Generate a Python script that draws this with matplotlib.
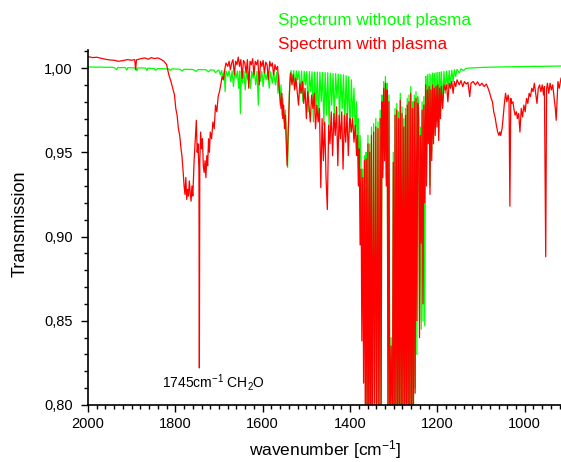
import numpy as np
import matplotlib
matplotlib.use("Agg")
import matplotlib.pyplot as plt
from matplotlib.ticker import MultipleLocator, FuncFormatter

plt.rcParams['font.family'] = ['Liberation Sans', 'DejaVu Sans']
plt.rcParams['mathtext.fontset'] = 'custom'
plt.rcParams['mathtext.rm'] = 'Liberation Sans'
plt.rcParams['mathtext.it'] = 'Liberation Sans:italic'
plt.rcParams['mathtext.bf'] = 'Liberation Sans:bold'

# ---------------------------------------------------------------------------
# Spectrum without plasma: (wavenumber [cm-1], transmission)
# ---------------------------------------------------------------------------
free_2000_1700 = [
    (2000, 1.0007), (1990, 1.0006), (1980, 1.0005), (1970, 1.0006), (1960, 1.0004),
    (1950, 1.0005), (1940, 1.0003), (1934, 0.9990), (1932, 1.0003), (1925, 1.0002),
    (1915, 1.0003), (1911, 0.9988), (1909, 1.0002), (1900, 1.0001), (1890, 1.0000),
    (1888, 0.9984), (1886, 1.0000), (1878, 1.0001), (1868, 0.9999), (1865, 0.9986),
    (1863, 0.9999), (1855, 0.9998), (1848, 0.9997), (1846, 0.9986), (1840, 0.9997),
    (1832, 0.9996), (1822, 0.9995), (1815, 0.9995), (1812, 0.9986), (1808, 0.9995),
    (1800, 0.9994), (1790, 0.9993), (1784, 0.9983), (1780, 0.9993), (1770, 0.9992),
    (1760, 0.9991), (1752, 0.9980), (1748, 0.9991), (1740, 0.9990), (1730, 0.9990),
    (1724, 0.9978), (1720, 0.9989), (1712, 0.9988), (1708, 0.9972), (1702, 0.9988),
]
free_1700_1537 = [
    (1700, 0.9986), (1697, 0.9960), (1694, 0.9985), (1690, 0.9930), (1688, 0.9984),
    (1686, 0.9860), (1684, 0.9982), (1680, 0.9950), (1677, 0.9984), (1673, 0.9920),
    (1670, 0.9983), (1667, 0.9890), (1664, 0.9982), (1661, 0.9940), (1658, 0.9983),
    (1655, 0.9880), (1653, 0.9982), (1651, 0.9730), (1649, 0.9980), (1646, 0.9910),
    (1643, 0.9982), (1640, 0.9870), (1637, 0.9981), (1634, 0.9930), (1631, 0.9980),
    (1628, 0.9880), (1625, 0.9981), (1622, 0.9940), (1619, 0.9980), (1616, 0.9900),
    (1613, 0.9980), (1610, 0.9780), (1608, 0.9979), (1605, 0.9920), (1602, 0.9980),
    (1599, 0.9890), (1596, 0.9979), (1592, 0.9930), (1589, 0.9978), (1585, 0.9880),
    (1582, 0.9978), (1578, 0.9910), (1575, 0.9977), (1571, 0.9900), (1568, 0.9975),
    (1565, 0.9850), (1563, 0.9960), (1560, 0.9780), (1558, 0.9900), (1556, 0.9720),
    (1554, 0.9820), (1551, 0.9680), (1548, 0.9750), (1546, 0.9600), (1543, 0.9410),
    (1541, 0.9650), (1539, 0.9850), (1537, 0.9960),
]
free_1536_1377 = [
    (1535, 0.9985), (1532, 0.9920), (1529, 0.9984), (1526, 0.9880), (1523, 0.9983),
    (1520, 0.9930), (1517, 0.9982), (1514, 0.9850), (1511, 0.9982), (1508, 0.9800),
    (1505, 0.9980), (1502, 0.9900), (1499, 0.9980), (1496, 0.9740), (1493, 0.9979),
    (1490, 0.9860), (1487, 0.9978), (1484, 0.9680), (1481, 0.9977), (1478, 0.9750),
    (1475, 0.9976), (1472, 0.9690), (1469, 0.9975), (1466, 0.9800), (1463, 0.9974),
    (1460, 0.9660), (1457, 0.9973), (1454, 0.9720), (1451, 0.9972), (1448, 0.9650),
    (1445, 0.9970), (1442, 0.9780), (1439, 0.9968), (1436, 0.9700), (1433, 0.9967),
    (1430, 0.9820), (1427, 0.9965), (1424, 0.9690), (1421, 0.9962), (1418, 0.9760),
    (1415, 0.9960), (1412, 0.9660), (1409, 0.9955), (1406, 0.9700), (1403, 0.9950),
    (1400, 0.9620), (1397, 0.9930), (1394, 0.9700), (1391, 0.9880), (1388, 0.9600),
    (1385, 0.9800), (1383, 0.9500), (1381, 0.9700), (1379, 0.9300), (1377, 0.9600),
]
free_1375_1245 = [
    (1375, 0.9450), (1373, 0.8900), (1371, 0.9400), (1369, 0.8600), (1367, 0.9480),
    (1365, 0.9060), (1363, 0.9500), (1361, 0.7800), (1359, 0.9600), (1357, 0.7800),
    (1355, 0.9550), (1353, 0.7800), (1351, 0.9650), (1349, 0.7800), (1346, 0.9670),
    (1344, 0.7800), (1341, 0.9700), (1339, 0.7800), (1336, 0.9680), (1334, 0.7800),
    (1331, 0.9750), (1329, 0.7800), (1327, 0.9840), (1325, 0.9400), (1323, 0.9920),
    (1321, 0.9500), (1319, 0.9950), (1317, 0.9350), (1315, 0.9910), (1313, 0.7800),
    (1311, 0.9840), (1309, 0.7800), (1306, 0.8400), (1303, 0.7800), (1301, 0.9500),
    (1299, 0.7800), (1297, 0.9760), (1295, 0.7800), (1293, 0.9790), (1291, 0.7800),
    (1289, 0.9740), (1287, 0.7800), (1285, 0.9850), (1283, 0.7800), (1281, 0.9770),
    (1279, 0.7800), (1277, 0.9700), (1275, 0.8100), (1273, 0.9760), (1271, 0.7800),
    (1269, 0.9820), (1267, 0.7800), (1265, 0.9840), (1263, 0.7800), (1261, 0.9890),
    (1259, 0.7800), (1257, 0.9800), (1255, 0.7800), (1253, 0.9840), (1251, 0.8100),
    (1249, 0.9860), (1247, 0.8300), (1245, 0.9830),
]
free_1243_917 = [
    (1243, 0.9740), (1241, 0.8500), (1239, 0.9650), (1237, 0.8450), (1235, 0.9800),
    (1233, 0.8500), (1231, 0.9830), (1229, 0.8470), (1227, 0.9950), (1225, 0.9350),
    (1223, 0.9960), (1221, 0.9600), (1219, 0.9965), (1217, 0.9300), (1215, 0.9960),
    (1213, 0.9500), (1211, 0.9970), (1209, 0.9580), (1207, 0.9968), (1205, 0.9650),
    (1203, 0.9972), (1201, 0.9680), (1199, 0.9975), (1197, 0.9620), (1195, 0.9974),
    (1193, 0.9750), (1191, 0.9978), (1188, 0.9800), (1185, 0.9980), (1182, 0.9850),
    (1179, 0.9982), (1176, 0.9880), (1173, 0.9985), (1170, 0.9900), (1167, 0.9987),
    (1164, 0.9920), (1161, 0.9990), (1158, 0.9950), (1155, 0.9992), (1150, 0.9970),
    (1146, 0.9995), (1140, 0.9985), (1135, 0.9998), (1125, 1.0000), (1110, 1.0002),
    (1095, 1.0004), (1080, 1.0005), (1060, 1.0006), (1040, 1.0007), (1020, 1.0008),
    (1000, 1.0009), (980, 1.0010), (960, 1.0010), (940, 1.0011), (917, 1.0012),
]

# ---------------------------------------------------------------------------
# Spectrum with plasma: (wavenumber [cm-1], transmission)
# ---------------------------------------------------------------------------
plasma_2000_1700 = [
    (2000, 1.0068), (1990, 1.0062), (1980, 1.0064), (1970, 1.0058), (1960, 1.0052),
    (1950, 1.0048), (1940, 1.0046), (1930, 1.0040), (1920, 1.0044), (1910, 1.0050),
    (1900, 1.0046), (1893, 1.0050), (1891, 0.9990), (1889, 1.0048), (1880, 1.0055),
    (1870, 1.0060), (1862, 1.0052), (1855, 1.0062), (1848, 1.0056), (1840, 1.0060),
    (1832, 1.0050), (1826, 1.0040), (1820, 1.0020), (1815, 0.9960), (1810, 0.9920),
    (1806, 0.9880), (1802, 0.9840), (1799, 0.9760), (1796, 0.9720), (1793, 0.9640),
    (1790, 0.9600), (1787, 0.9520), (1785, 0.9480), (1782, 0.9380), (1780, 0.9300),
    (1778, 0.9250), (1776, 0.9350), (1774, 0.9220), (1772, 0.9280), (1770, 0.9240),
    (1768, 0.9330), (1766, 0.9260), (1764, 0.9210), (1762, 0.9300), (1760, 0.9240),
    (1757, 0.9450), (1754, 0.9600), (1752, 0.9690), (1750, 0.9500), (1748, 0.9550),
    (1746, 0.9400), (1745, 0.8220), (1744, 0.9450), (1742, 0.9620), (1740, 0.9520),
    (1738, 0.9580), (1736, 0.9420), (1734, 0.9380), (1732, 0.9450), (1730, 0.9350),
    (1728, 0.9480), (1726, 0.9420), (1724, 0.9580), (1722, 0.9500), (1720, 0.9620),
    (1717, 0.9580), (1714, 0.9680), (1711, 0.9640), (1708, 0.9780), (1705, 0.9740),
    (1702, 0.9830),
]
plasma_1700_1537 = [
    (1699, 0.9860), (1696, 0.9900), (1693, 0.9950), (1690, 0.9930), (1687, 0.9990),
    (1684, 1.0030), (1680, 1.0010), (1677, 1.0040), (1674, 0.9990), (1671, 1.0030),
    (1668, 1.0050), (1665, 0.9960), (1662, 1.0040), (1659, 1.0020), (1656, 1.0065),
    (1653, 1.0010), (1650, 1.0050), (1647, 0.9940), (1644, 1.0045), (1641, 1.0030),
    (1638, 0.9970), (1635, 1.0050), (1632, 0.9880), (1629, 1.0040), (1626, 1.0020),
    (1623, 1.0055), (1620, 0.9960), (1617, 1.0040), (1614, 1.0020), (1611, 1.0048),
    (1608, 0.9900), (1605, 1.0040), (1602, 1.0010), (1599, 1.0045), (1596, 0.9970),
    (1593, 1.0035), (1590, 1.0020), (1587, 0.9930), (1584, 1.0040), (1581, 1.0010),
    (1578, 1.0030), (1575, 0.9960), (1572, 1.0020), (1569, 0.9990), (1566, 1.0010),
    (1563, 0.9900), (1560, 0.9820), (1558, 0.9760), (1556, 0.9850), (1554, 0.9700),
    (1552, 0.9780), (1550, 0.9640), (1548, 0.9720), (1546, 0.9550), (1544, 0.9420),
    (1542, 0.9600), (1540, 0.9750), (1538, 0.9900),
]
plasma_1536_1401 = [
    (1536, 0.9970), (1533, 0.9900), (1530, 0.9960), (1527, 0.9870), (1524, 0.9940),
    (1521, 0.9860), (1518, 0.9780), (1515, 0.9910), (1512, 0.9850), (1509, 0.9920),
    (1506, 0.9790), (1503, 0.9880), (1500, 0.9700), (1497, 0.9860), (1494, 0.9780),
    (1491, 0.9680), (1488, 0.9840), (1485, 0.9760), (1482, 0.9850), (1479, 0.9640),
    (1476, 0.9780), (1473, 0.9680), (1470, 0.9760), (1467, 0.9290), (1464, 0.9700),
    (1461, 0.9450), (1458, 0.9680), (1455, 0.9350), (1452, 0.9160), (1449, 0.9660),
    (1446, 0.9550), (1443, 0.9740), (1440, 0.9480), (1437, 0.9730), (1434, 0.9600),
    (1431, 0.9770), (1428, 0.9420), (1425, 0.9720), (1422, 0.9580), (1419, 0.9740),
    (1416, 0.9400), (1413, 0.9720), (1410, 0.9560), (1407, 0.9730), (1404, 0.9480),
    (1401, 0.9700),
]
plasma_1400_1245 = [
    (1400, 0.9700), (1397, 0.9620), (1394, 0.9700), (1391, 0.9560), (1388, 0.9660),
    (1385, 0.9480), (1383, 0.9600), (1381, 0.9300), (1379, 0.9520), (1377, 0.8950),
    (1375, 0.9400), (1373, 0.8380), (1371, 0.9350), (1369, 0.8130), (1367, 0.9450),
    (1365, 0.7800), (1363, 0.9460), (1361, 0.7800), (1359, 0.9550), (1357, 0.7800),
    (1355, 0.9500), (1353, 0.7800), (1351, 0.9600), (1349, 0.7800), (1346, 0.9620),
    (1344, 0.7800), (1341, 0.9650), (1339, 0.7800), (1336, 0.9640), (1334, 0.7800),
    (1331, 0.9700), (1329, 0.7800), (1327, 0.9800), (1325, 0.9350), (1323, 0.9880),
    (1321, 0.9450), (1319, 0.9910), (1317, 0.9300), (1315, 0.9870), (1313, 0.7800),
    (1311, 0.9800), (1309, 0.7800), (1306, 0.8350), (1303, 0.7800), (1301, 0.9440),
    (1299, 0.7800), (1297, 0.9720), (1295, 0.7800), (1293, 0.9750), (1291, 0.7800),
    (1289, 0.9700), (1287, 0.7800), (1285, 0.9810), (1283, 0.7800), (1281, 0.9730),
    (1279, 0.7800), (1277, 0.9650), (1275, 0.7800), (1273, 0.9720), (1271, 0.7800),
    (1269, 0.9780), (1267, 0.7800), (1265, 0.9800), (1263, 0.7800), (1261, 0.9850),
    (1259, 0.7800), (1257, 0.9760), (1255, 0.7800), (1253, 0.9800), (1251, 0.8070),
    (1249, 0.9820), (1247, 0.8500), (1245, 0.9790),
]
plasma_1243_917 = [
    (1243, 0.9700), (1241, 0.8400), (1239, 0.9600), (1237, 0.8960), (1235, 0.9750),
    (1233, 0.8600), (1231, 0.9780), (1229, 0.9200), (1227, 0.9900), (1225, 0.9300),
    (1223, 0.9870), (1221, 0.9550), (1219, 0.9890), (1217, 0.9250), (1215, 0.9870),
    (1213, 0.9450), (1211, 0.9900), (1209, 0.9550), (1207, 0.9880), (1205, 0.9600),
    (1203, 0.9890), (1201, 0.9650), (1199, 0.9900), (1197, 0.9570), (1195, 0.9880),
    (1193, 0.9700), (1191, 0.9890), (1188, 0.9760), (1185, 0.9900), (1182, 0.9870),
    (1179, 0.9900), (1176, 0.9800), (1173, 0.9910), (1170, 0.9880), (1167, 0.9920),
    (1164, 0.9850), (1161, 0.9920), (1158, 0.9890), (1155, 0.9930), (1150, 0.9900),
    (1146, 0.9925), (1142, 0.9890), (1138, 0.9920), (1134, 0.9905), (1130, 0.9915),
    (1126, 0.9830), (1123, 0.9910), (1118, 0.9920), (1113, 0.9900), (1108, 0.9918),
    (1103, 0.9895), (1098, 0.9910), (1093, 0.9890), (1088, 0.9905), (1084, 0.9880),
    (1080, 0.9850), (1077, 0.9820), (1074, 0.9800), (1071, 0.9740), (1068, 0.9710),
    (1065, 0.9660), (1062, 0.9620), (1059, 0.9600), (1057, 0.9620), (1055, 0.9600),
    (1052, 0.9640), (1050, 0.9690), (1047, 0.9780), (1044, 0.9850), (1041, 0.9800),
    (1038, 0.9840), (1036, 0.9800), (1034, 0.9180), (1032, 0.9820), (1030, 0.9790),
    (1027, 0.9800), (1025, 0.9760), (1022, 0.9720), (1019, 0.9740), (1017, 0.9700),
    (1014, 0.9730), (1011, 0.9620), (1008, 0.9760), (1005, 0.9710), (1002, 0.9780),
    (999, 0.9740), (996, 0.9820), (993, 0.9790), (990, 0.9850), (987, 0.9830),
    (984, 0.9880), (981, 0.9860), (978, 0.9910), (975, 0.9850), (972, 0.9790),
    (969, 0.9880), (966, 0.9900), (963, 0.9860), (960, 0.9900), (957, 0.9840),
    (955, 0.9890), (952, 0.8880), (950, 0.9880), (948, 0.9910), (945, 0.9850),
    (942, 0.9910), (939, 0.9870), (936, 0.9900), (933, 0.9830), (930, 0.9760),
    (928, 0.9690), (926, 0.9800), (924, 0.9920), (921, 0.9880), (917, 0.9940),
]

label_free = "Spectrum without plasma"
label_plasma = "Spectrum with plasma"
annotation_text = "1745cm$^{-1}$ CH$_2$O"


def join(*parts):
    arr = np.array([p for part in parts for p in part], dtype=float)
    return arr[:, 0], arr[:, 1]


wn_free, t_free = join(free_2000_1700, free_1700_1537, free_1536_1377,
                       free_1375_1245, free_1243_917)
wn_plasma, t_plasma = join(plasma_2000_1700, plasma_1700_1537, plasma_1536_1401,
                           plasma_1400_1245, plasma_1243_917)

W, H = 561, 462
fig = plt.figure(figsize=(W / 100, H / 100), dpi=100)
ax = fig.add_axes([88 / W, 57 / H, 1 - 88 / W, (405 - 50) / H])

green = '#00ff00'
red = '#ff0000'
ax.plot(wn_free, t_free, color=green, lw=0.9)
ax.plot(wn_plasma, t_plasma, color=red, lw=0.9)

ax.set_xlim(2000, 917)
ax.set_ylim(0.80, 1.0107)

for side in ('top', 'right'):
    ax.spines[side].set_visible(False)
for side in ('left', 'bottom'):
    ax.spines[side].set_linewidth(1.2)

ax.xaxis.set_major_locator(MultipleLocator(200))
ax.xaxis.set_minor_locator(MultipleLocator(20))
ax.yaxis.set_major_locator(MultipleLocator(0.05))
ax.yaxis.set_minor_locator(MultipleLocator(0.01))
ax.yaxis.set_major_formatter(FuncFormatter(lambda v, p: f"{v:.2f}".replace('.', ',')))
ax.tick_params(which='both', direction='out', width=1.0, labelsize=10.5)
ax.tick_params(which='major', length=5)
ax.tick_params(which='minor', length=3)
ax.tick_params(axis='x', pad=4)
ax.tick_params(axis='y', pad=6)

ax.text(1831, 0.8105, annotation_text, fontsize=10, color='black',
        ha='left', va='baseline')

fig.text(20 / W, 1 - 224 / H, "Transmission", rotation=90, fontsize=13,
         ha='center', va='center')
fig.text(325 / W, 1 - 455 / H, "wavenumber [cm$^{-1}$]", fontsize=12.5,
         ha='center', va='baseline')

fig.text(278 / W, 1 - 21 / H, label_free, color=green, fontsize=12.3,
         ha='left', va='center')
fig.text(278 / W, 1 - 44 / H, label_plasma, color=red, fontsize=12.3,
         ha='left', va='center')

fig.savefig("out.png", dpi=100)
